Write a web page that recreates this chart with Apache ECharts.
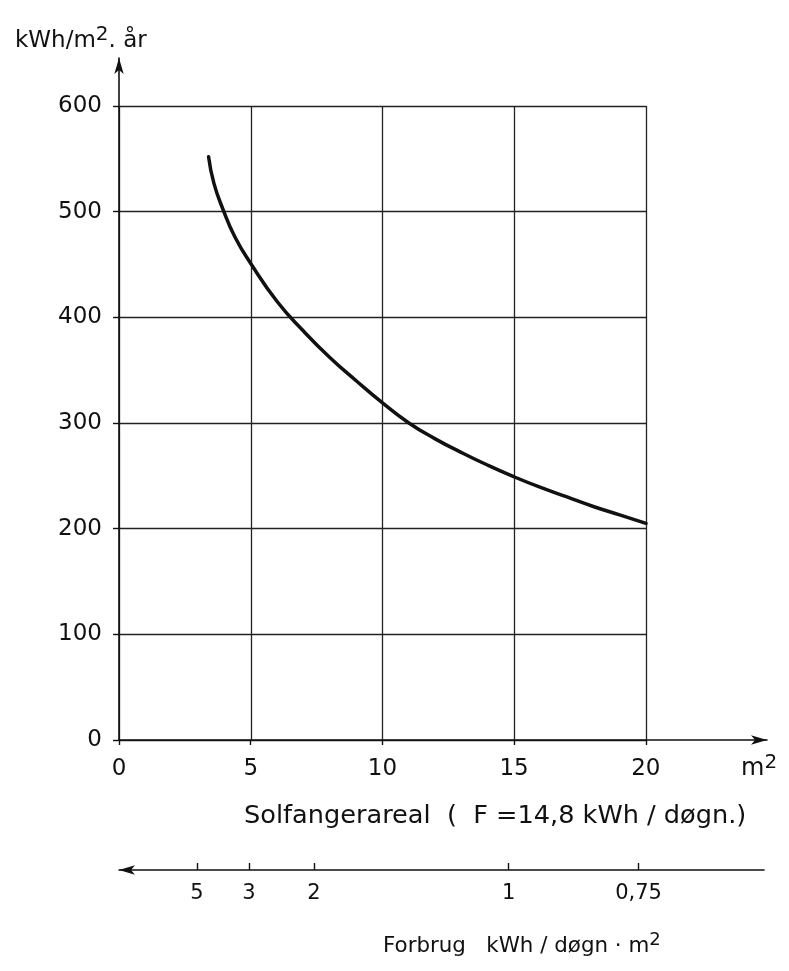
<!DOCTYPE html>
<html><head><meta charset="utf-8">
<script src="https://cdn.jsdelivr.net/npm/echarts@6/dist/echarts.min.js"></script>
<style>html,body{margin:0;padding:0;background:#fff}#c{width:789px;height:971px}</style>
</head><body><div id="c"></div>
<script>
// Data
const areaM2 = [3.4, 3.6, 3.95, 4.4, 5, 6, 7, 8, 9, 10, 11, 12, 13, 14, 15, 16, 17, 18, 19, 20];
const energyKWh = [552, 527, 502, 476, 451, 415, 387, 362, 340, 319, 300, 285, 272, 260, 249, 239, 230, 221, 213, 205];
const xTicks = [0, 5, 10, 15, 20];
const yTicks = [0, 100, 200, 300, 400, 500, 600];
const forbrugTicks = [5, 3, 2, 1, 0.75];
const forbrugLabels = ['5', '3', '2', '1', '0,75'];
const F = 14.8; // kWh/døgn

const FONT = 'DejaVu Sans';
const INK = '#111';
const forbrugPos = forbrugTicks.map(v => F / v);

const chart = echarts.init(document.getElementById('c'), null, {renderer: 'canvas'});
chart.setOption({
  backgroundColor: '#fff',
  animation: false,
  textStyle: {fontFamily: FONT, color: INK},
  title: [
    {left: 15, top: 25, padding: 0, text: 'kWh/m{s|2}{d|.} år',
     textStyle: {fontFamily: FONT, fontSize: 23, fontWeight: 'normal', color: INK,
       rich: {s: {fontSize: 20, fontFamily: FONT, color: INK, padding: [0,0,12,0]},
              d: {fontSize: 23, fontFamily: FONT, color: INK}}}},
    {left: 741, top: 753, padding: 0, text: 'm{s|2}',
     textStyle: {fontFamily: FONT, fontSize: 24, fontWeight: 'normal', color: INK,
       rich: {s: {fontSize: 20, fontFamily: FONT, color: INK, padding: [0,0,12,0]}}}},
    {left: 244, top: 803, padding: 0, text: 'Solfangerareal  (  F =14,8 kWh / døgn.)',
     textStyle: {fontFamily: FONT, fontSize: 25.6, fontWeight: 'normal', color: INK}},
    {left: 383, top: 931, padding: 0, text: 'Forbrug   kWh / døgn · m{s|2}',
     textStyle: {fontFamily: FONT, fontSize: 21.4, fontWeight: 'normal', color: INK,
       rich: {s: {fontSize: 18, fontFamily: FONT, color: INK, padding: [0,0,12,0]}}}}
  ],
  grid: [
    {left: 119, top: 106, width: 527, height: 634},
    {left: 119, top: 58, width: 648, height: 682},
    {left: 119, top: 869, width: 645, height: 1}
  ],
  xAxis: [
    {gridIndex: 0, type: 'value', min: 0, max: 20, interval: 5,
     axisLine: {show: false}, axisTick: {show: false}, axisLabel: {show: false},
     splitLine: {show: true, lineStyle: {color: '#222', width: 1.3}}},
    {gridIndex: 1, type: 'value', min: 0, max: 24.6,
     axisLine: {show: true, onZero: false, symbol: ['none', 'arrow'], symbolSize: [7, 16],
       lineStyle: {color: INK, width: 1.6}},
     axisTick: {show: true, length: 5, customValues: xTicks, lineStyle: {color: INK, width: 1.4}},
     axisLabel: {show: true, customValues: xTicks, margin: 18, fontSize: 23, fontFamily: FONT, color: INK},
     splitLine: {show: false}},
    {gridIndex: 2, type: 'value', min: 0, max: 24.5, position: 'bottom',
     axisLine: {show: true, onZero: false, symbol: ['arrow', 'none'], symbolSize: [7, 16],
       lineStyle: {color: INK, width: 1.6}},
     axisTick: {show: true, inside: true, length: 7, customValues: forbrugPos, lineStyle: {color: INK, width: 1.4}},
     axisLabel: {show: true, customValues: forbrugPos, margin: 13, fontSize: 21, fontFamily: FONT, color: INK,
       formatter: function (v) {
         let best = 0, bd = Infinity;
         forbrugPos.forEach((p, i) => { const d = Math.abs(p - v); if (d < bd) { bd = d; best = i; } });
         return forbrugLabels[best];
       }},
     splitLine: {show: false}}
  ],
  yAxis: [
    {gridIndex: 0, type: 'value', min: 0, max: 600, interval: 100,
     axisLine: {show: false}, axisTick: {show: false}, axisLabel: {show: false},
     splitLine: {show: true, lineStyle: {color: '#222', width: 1.3}}},
    {gridIndex: 1, type: 'value', min: 0, max: 645.4,
     axisLine: {show: true, onZero: false, symbol: ['none', 'arrow'], symbolSize: [7, 16],
       lineStyle: {color: INK, width: 1.6}},
     axisTick: {show: true, length: 6, customValues: yTicks, lineStyle: {color: INK, width: 1.4}},
     axisLabel: {show: true, customValues: yTicks, margin: 17, fontSize: 23, fontFamily: FONT, color: INK},
     splitLine: {show: false}},
    {gridIndex: 2, type: 'value', show: false}
  ],
  series: [
    {type: 'line', xAxisIndex: 0, yAxisIndex: 0, smooth: 0.5, symbol: 'none',
     lineStyle: {color: INK, width: 3.5, cap: 'round'},
     data: areaM2.map((x, i) => [x, energyKWh[i]])}
  ]
});
</script>
</body></html>
